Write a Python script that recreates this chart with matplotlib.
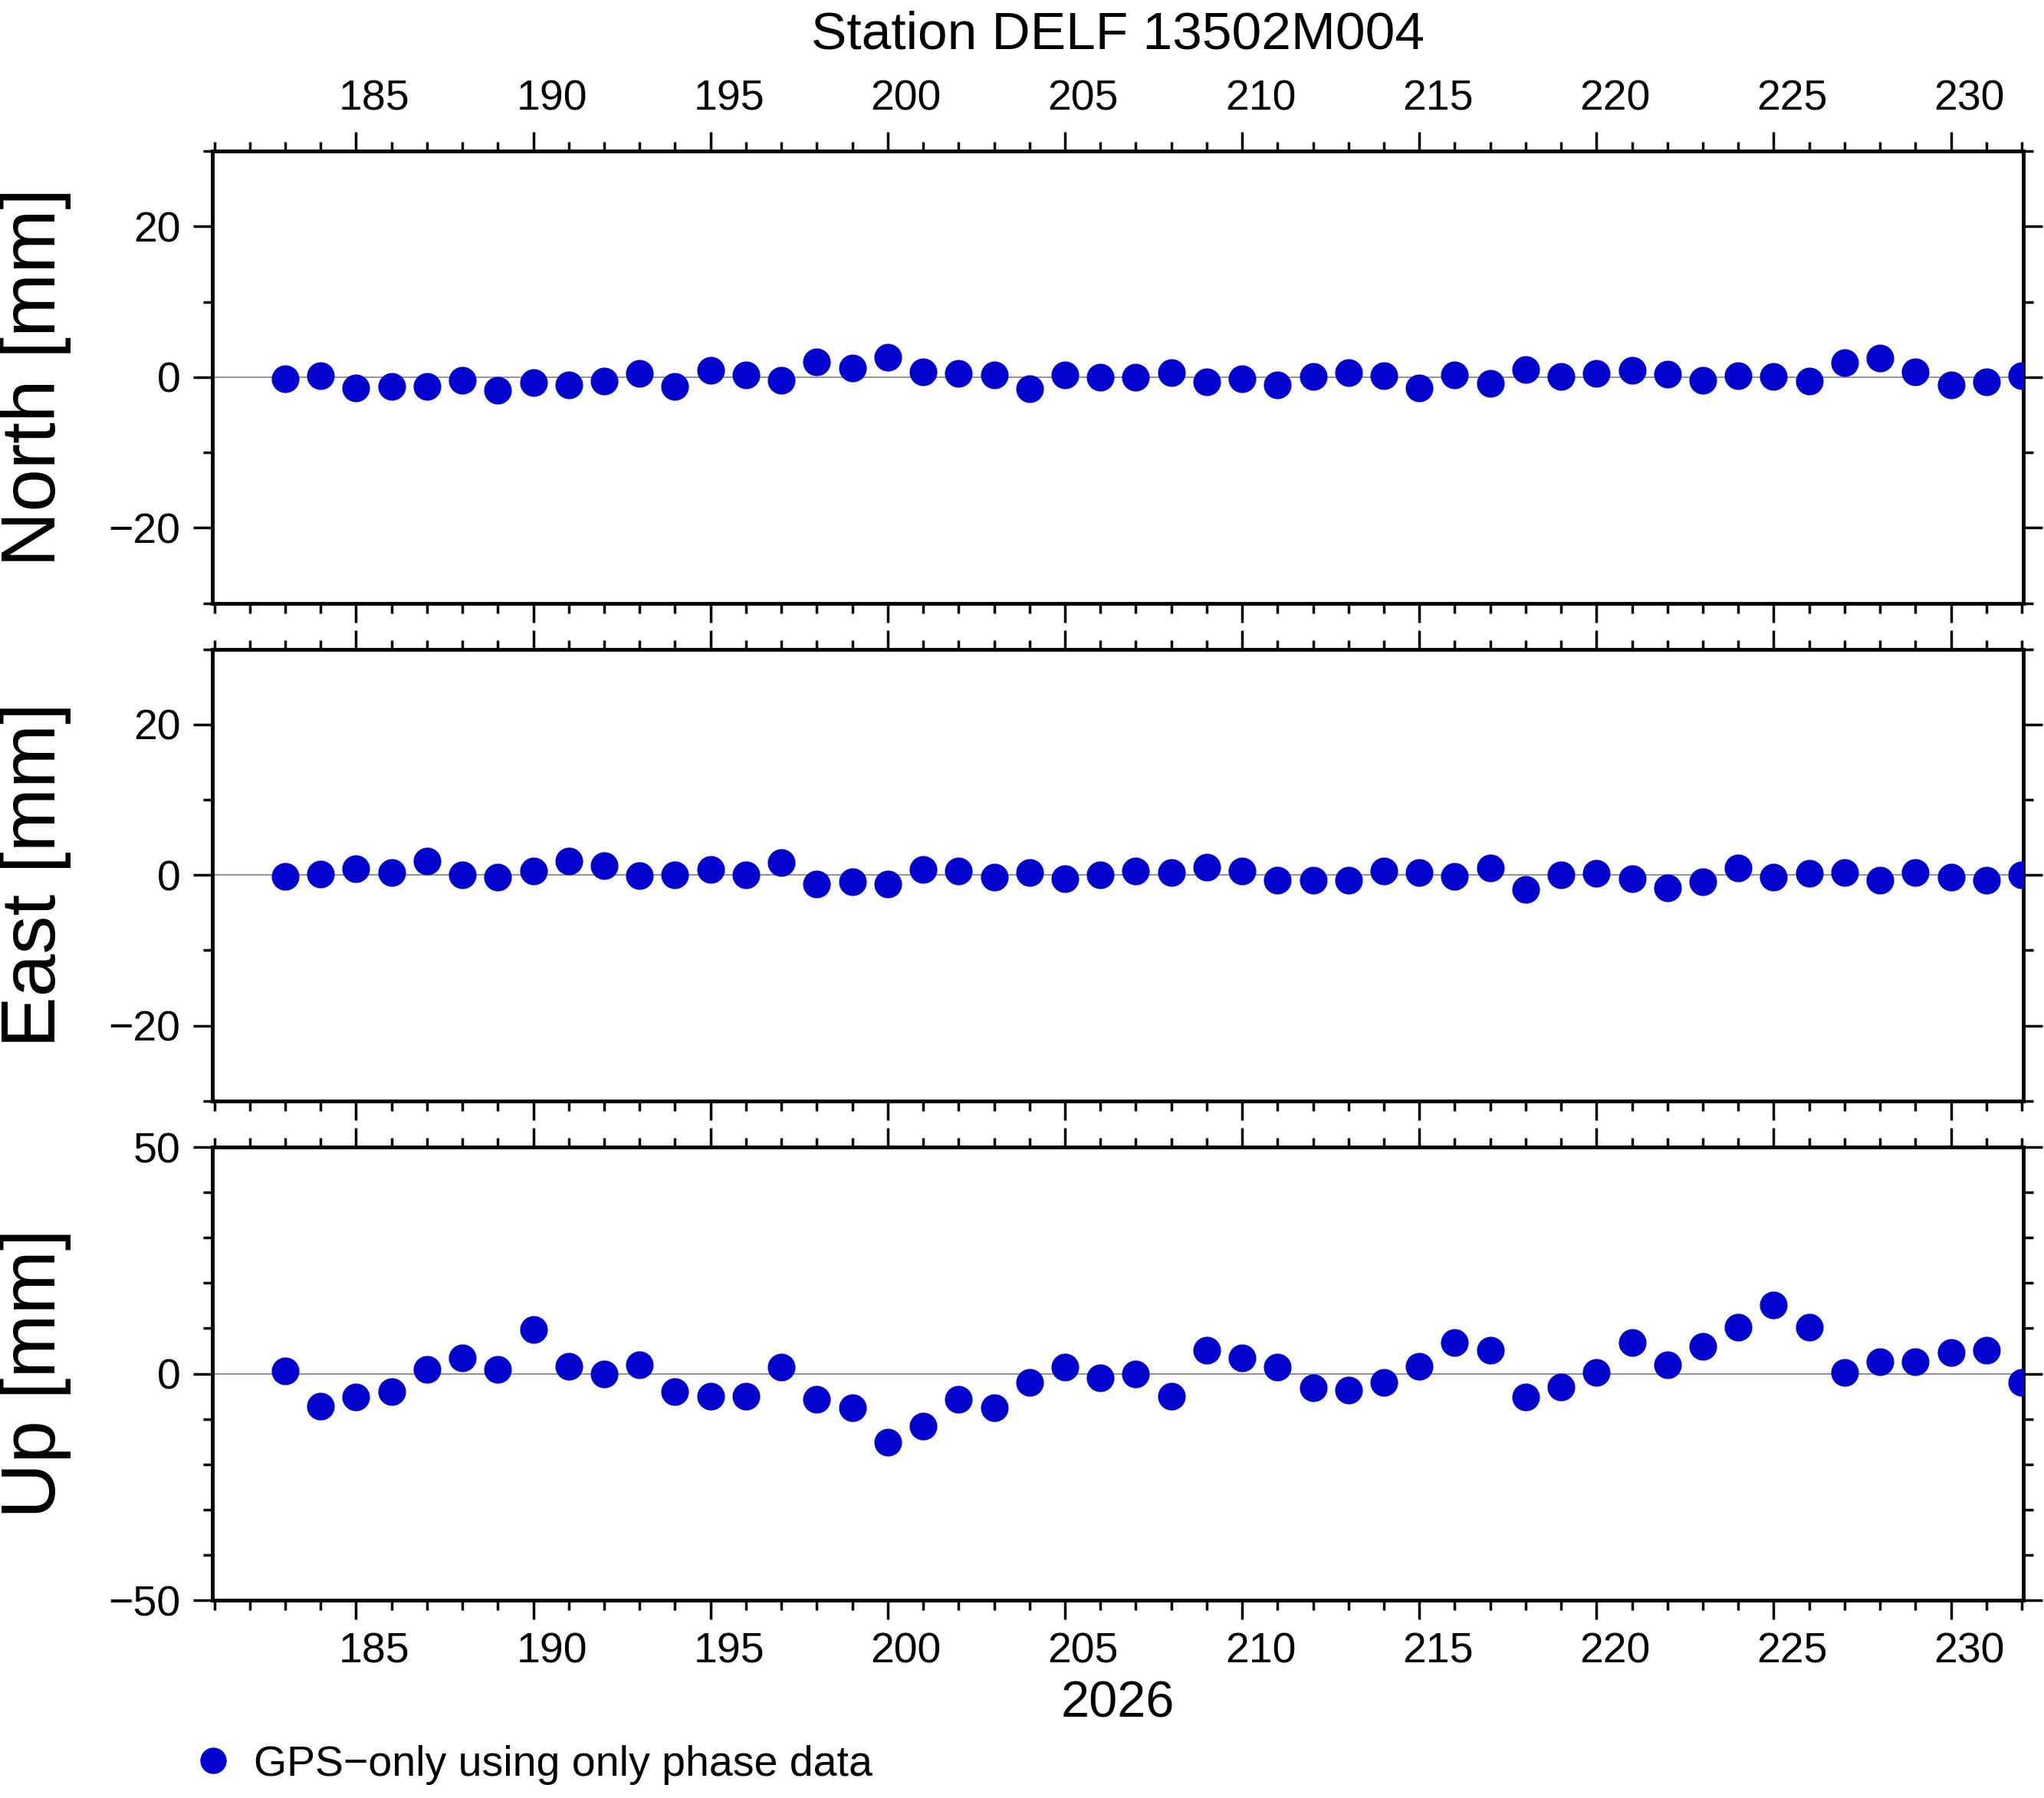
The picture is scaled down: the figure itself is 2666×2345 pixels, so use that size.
"""
Station coordinate time series plot (North, East, Up)
"""
import matplotlib
matplotlib.use('Agg')  # Use non-interactive backend
import matplotlib.pyplot as plt
import matplotlib.transforms as mtransforms

plt.rcParams['font.family'] = ['Liberation Sans', 'DejaVu Sans']

# Day of year
days = list(range(183, 233))

north = [-0.2, 0.2, -1.4, -1.2, -1.2, -0.4, -1.7, -0.7, -1.0, -0.5,
         0.5, -1.2, 0.9, 0.3, -0.4, 2.0, 1.2, 2.6, 0.7, 0.5,
         0.3, -1.5, 0.3, 0.0, 0.0, 0.6, -0.6, -0.2, -1.0, 0.1,
         0.6, 0.2, -1.4, 0.3, -0.8, 1.0, 0.1, 0.5, 0.9, 0.4,
         -0.4, 0.2, 0.1, -0.5, 1.9, 2.5, 0.7, -1.0, -0.6, 0.2]

east = [-0.2, 0.1, 0.8, 0.3, 1.9, 0.0, -0.3, 0.5, 1.9, 1.2,
        -0.1, 0.0, 0.7, 0.0, 1.6, -1.2, -0.9, -1.2, 0.7, 0.5,
        -0.3, 0.3, -0.5, 0.0, 0.5, 0.3, 1.0, 0.5, -0.7, -0.7,
        -0.7, 0.5, 0.3, -0.2, 0.9, -1.9, 0.0, 0.2, -0.5, -1.7,
        -0.9, 0.9, -0.3, 0.2, 0.3, -0.7, 0.3, -0.3, -0.7, 0.0]

up = [0.6, -7.2, -5.2, -4.0, 0.9, 3.4, 0.9, 9.8, 1.7, 0.0,
      2.0, -4.0, -4.9, -4.9, 1.4, -5.7, -7.5, -15.2, -11.5, -5.7,
      -7.5, -2.0, 1.4, -0.9, 0.0, -4.9, 5.2, 3.4, 1.4, -3.2,
      -3.7, -2.0, 1.7, 6.9, 5.2, -5.2, -2.9, 0.3, 6.9, 2.0,
      6.0, 10.3, 15.2, 10.3, 0.3, 2.6, 2.6, 4.6, 5.2, -2.0]

labels = ['North [mm]', 'East [mm]', 'Up [mm]']
limits = [(-30, 30), (-30, 30), (-50, 50)]
yticks = [[-20, 0, 20], [-20, 0, 20], [-50, 0, 50]]
yminor = [10, 10, 10]


def generate_station_chart():
    """
    Draw the three component panels and save to out.png.
    """
    fig = plt.figure(figsize=(26.66, 23.45), dpi=100)
    boxes = [[0.104, 0.6645, 0.886, 0.2515],
             [0.104, 0.3877, 0.886, 0.2513],
             [0.104, 0.110, 0.886, 0.252]]
    color = '#0000cc'
    shift = mtransforms.ScaledTranslation(0.24, 0, fig.dpi_scale_trans)  # labels sit between ticks

    for i, values in enumerate([north, east, up]):
        ax = plt.axes(boxes[i])
        plt.axhline(0, color='grey', linewidth=1.2, zorder=1)
        line, = plt.plot(days, values, 'o', color=color, markersize=25,
                         linestyle='none', zorder=3,
                         label='GPS\u2212only using only phase data')
        plt.xlim(180.95, 232.05)
        plt.ylim(*limits[i])
        plt.yticks(yticks[i], [f'{v:d}'.replace('-', '\u2212') for v in yticks[i]])
        lo, hi = limits[i]
        ax.set_yticks(list(range(lo, hi + 1, yminor[i])), minor=True)
        plt.xticks(list(range(185, 232, 5)))
        ax.set_xticks(list(range(181, 233)), minor=True)
        ax.tick_params(which='both', direction='out', top=True, right=True,
                       width=2.5, labelsize=40)
        ax.tick_params(which='major', length=18, pad=12)
        ax.tick_params(which='minor', length=9)
        for s in ax.spines.values():
            s.set_linewidth(3.5)
        plt.ylabel(labels[i], fontsize=72)
        ax.yaxis.set_label_coords(-0.078, 0.5)

        if i == 0:
            ax.tick_params(axis='x', labelbottom=False, labeltop=True)
            plt.title('Station DELF 13502M004', fontsize=50, pad=96)
        elif i == 1:
            ax.tick_params(axis='x', labelbottom=False)
        else:
            plt.xlabel('2026', fontsize=48, labelpad=8)
        for lab in ax.get_xticklabels():
            lab.set_transform(lab.get_transform() + shift)

    fig.legend(handles=[line], loc='lower left', bbox_to_anchor=(0.07, -0.014),
               frameon=False, fontsize=40, handletextpad=0.2, markerscale=0.95,
               handlelength=1.5)

    plt.savefig('out.png', dpi=100)
    plt.close()


generate_station_chart()
